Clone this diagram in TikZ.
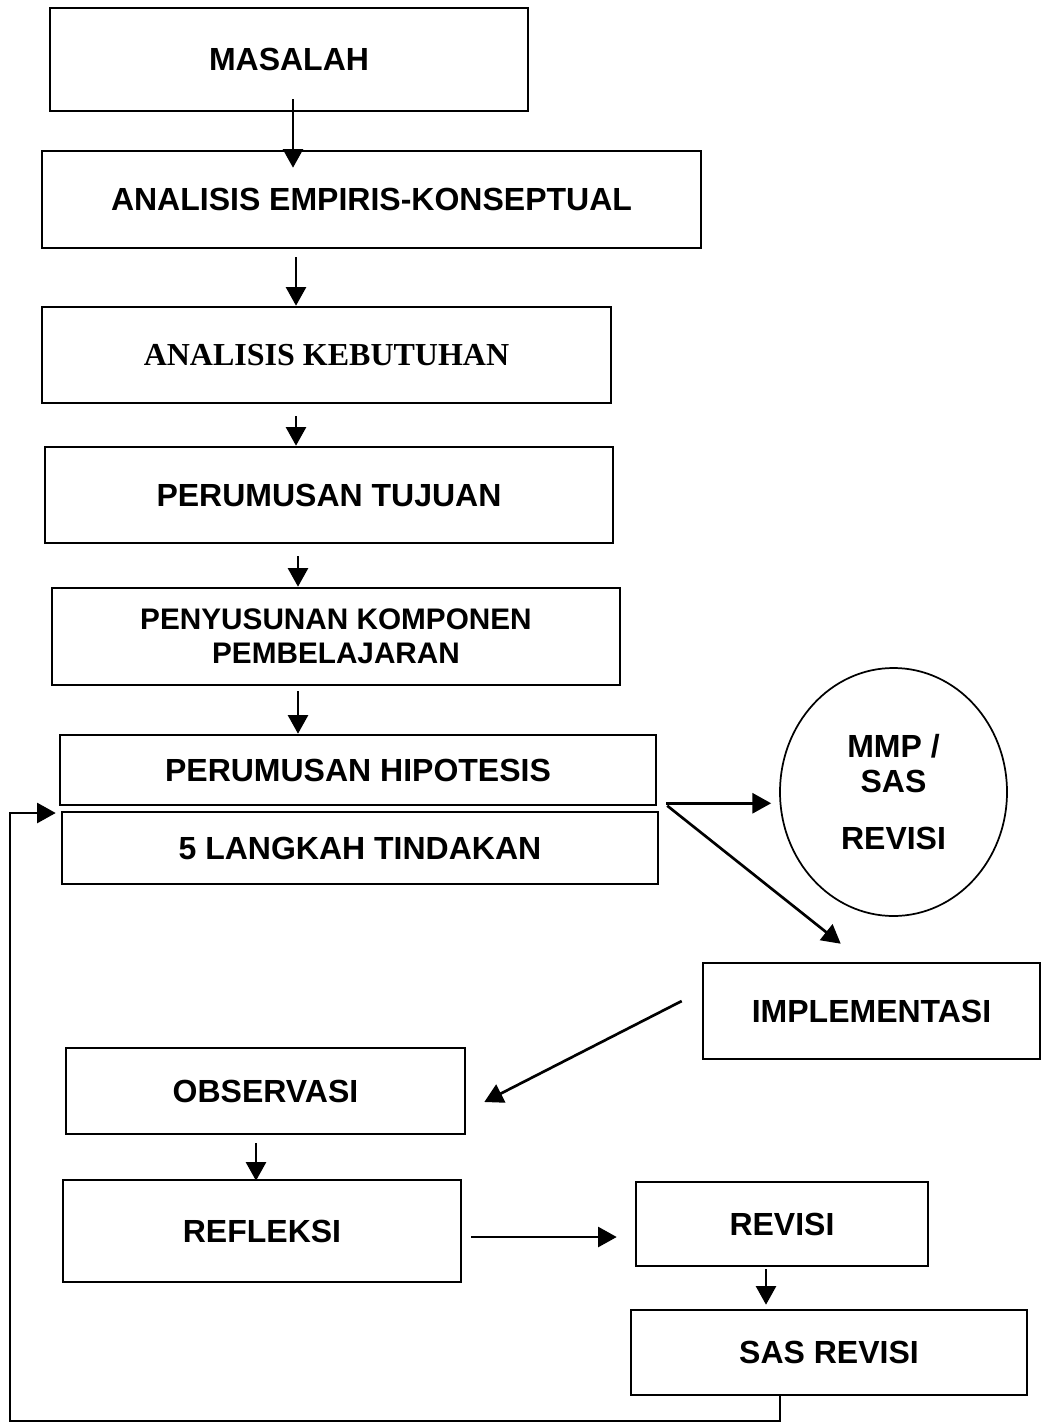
\documentclass[tikz,border=0pt]{standalone}
\usepackage{fontspec}
\setmainfont{Liberation Sans}
\newfontfamily\serifbox{Liberation Serif}
\usetikzlibrary{arrows.meta,shapes.geometric}
\tikzset{
  boxnode/.style={draw, line width=1.9pt, inner sep=0pt, align=center,
    font=\bfseries\fontsize{24}{28}\selectfont},
  arr/.style={line width=2pt, -{Triangle[length=14pt,width=15pt]}},
}
\begin{document}
\begin{tikzpicture}[x=0.75pt,y=-0.75pt]
\useasboundingbox (0,0) rectangle (1041,1423);
\node[boxnode, minimum width=358.5pt, minimum height=77.25pt] (m1) at (289,59.5) {MASALAH};
\node[boxnode, minimum width=494.25pt, minimum height=72.75pt] (m2) at (371.5,199.5) {ANALISIS EMPIRIS-KONSEPTUAL};
\node[boxnode, minimum width=426.75pt, minimum height=72pt, font=\serifbox\bfseries\fontsize{24}{28}\selectfont] (m3) at (326.5,355) {ANALISIS KEBUTUHAN};
\node[boxnode, minimum width=426pt, minimum height=72pt] (m4) at (329,495) {PERUMUSAN TUJUAN};
\node[boxnode, minimum width=426pt, minimum height=72.75pt, font=\bfseries\fontsize{22.3}{25.5}\selectfont] (m5) at (336,636.5) {PENYUSUNAN KOMPONEN\\PEMBELAJARAN};
\node[boxnode, minimum width=447pt, minimum height=52.5pt] (m6) at (358,770) {PERUMUSAN HIPOTESIS};
\node[boxnode, minimum width=447pt, minimum height=54pt] (m7) at (360,848) {5 LANGKAH TINDAKAN};
\node[boxnode, ellipse, line width=1.3pt, minimum width=170.25pt, minimum height=186pt, font=\bfseries\fontsize{24}{26.25}\selectfont] (mmp) at (893.5,792) {MMP /\\SAS\\[16.5pt]REVISI};
\node[boxnode, minimum width=252.75pt, minimum height=72pt] (impl) at (871.5,1011) {IMPLEMENTASI};
\node[boxnode, minimum width=299.25pt, minimum height=64.5pt] (obs) at (265.5,1091) {OBSERVASI};
\node[boxnode, minimum width=298.5pt, minimum height=76.5pt] (ref) at (262,1231) {REFLEKSI};
\node[boxnode, minimum width=219pt, minimum height=63pt] (rev) at (782,1224) {REVISI};
\node[boxnode, minimum width=297pt, minimum height=63.75pt] (sas) at (829,1352.5) {SAS REVISI};

\draw[arr] ([shift={(4,-13)}]m1.south) -- ([shift={(-78.5,18)}]m2.north);
\draw[arr] ([shift={(-75.5,8)}]m2.south) -- ([shift={(-30.5,0)}]m3.north);
\draw[arr] ([shift={(-30.5,12)}]m3.south) -- ([shift={(-33,0)}]m4.north);
\draw[arr] ([shift={(-31,12)}]m4.south) -- ([shift={(-38,0)}]m5.north);
\draw[arr] ([shift={(-38,5)}]m5.south) -- ([shift={(-60,0)}]m6.north);
\coordinate (h1) at ([shift={(9,-3)}]m6.south east);
\path (mmp.west |- h1) coordinate (h2);
\draw[arr] (h1) -- ([shift={(-8,0)}]h2);
\draw[arr] ([shift={(8,-5)}]m7.north east) -- ([shift={(139,-18)}]impl.north west);
\draw[arr] ([shift={(-20,-10)}]impl.west) -- ([shift={(18,11)}]obs.east);
\draw[arr] ([shift={(-9.5,8)}]obs.south) -- ([shift={(-6,2)}]ref.north);
\coordinate (r1) at ([shift={(9,6)}]ref.east);
\path (rev.west |- r1) coordinate (r2);
\draw[arr] (r1) -- ([shift={(-18,0)}]r2);
\draw[arr] ([shift={(-16,2)}]rev.south) -- ([shift={(-63,-4)}]sas.north);
\coordinate (fb1) at (780,1421);
\coordinate (fb2) at (10,1421);
\coordinate (fb3) at (10,813);
\path (fb3 -| m7.west) coordinate (fb4);
\draw[arr] ([shift={(-49,0)}]sas.south) -- (fb1) -- (fb2) -- (fb3) -- ([shift={(-5,0)}]fb4);
\end{tikzpicture}
\end{document}
